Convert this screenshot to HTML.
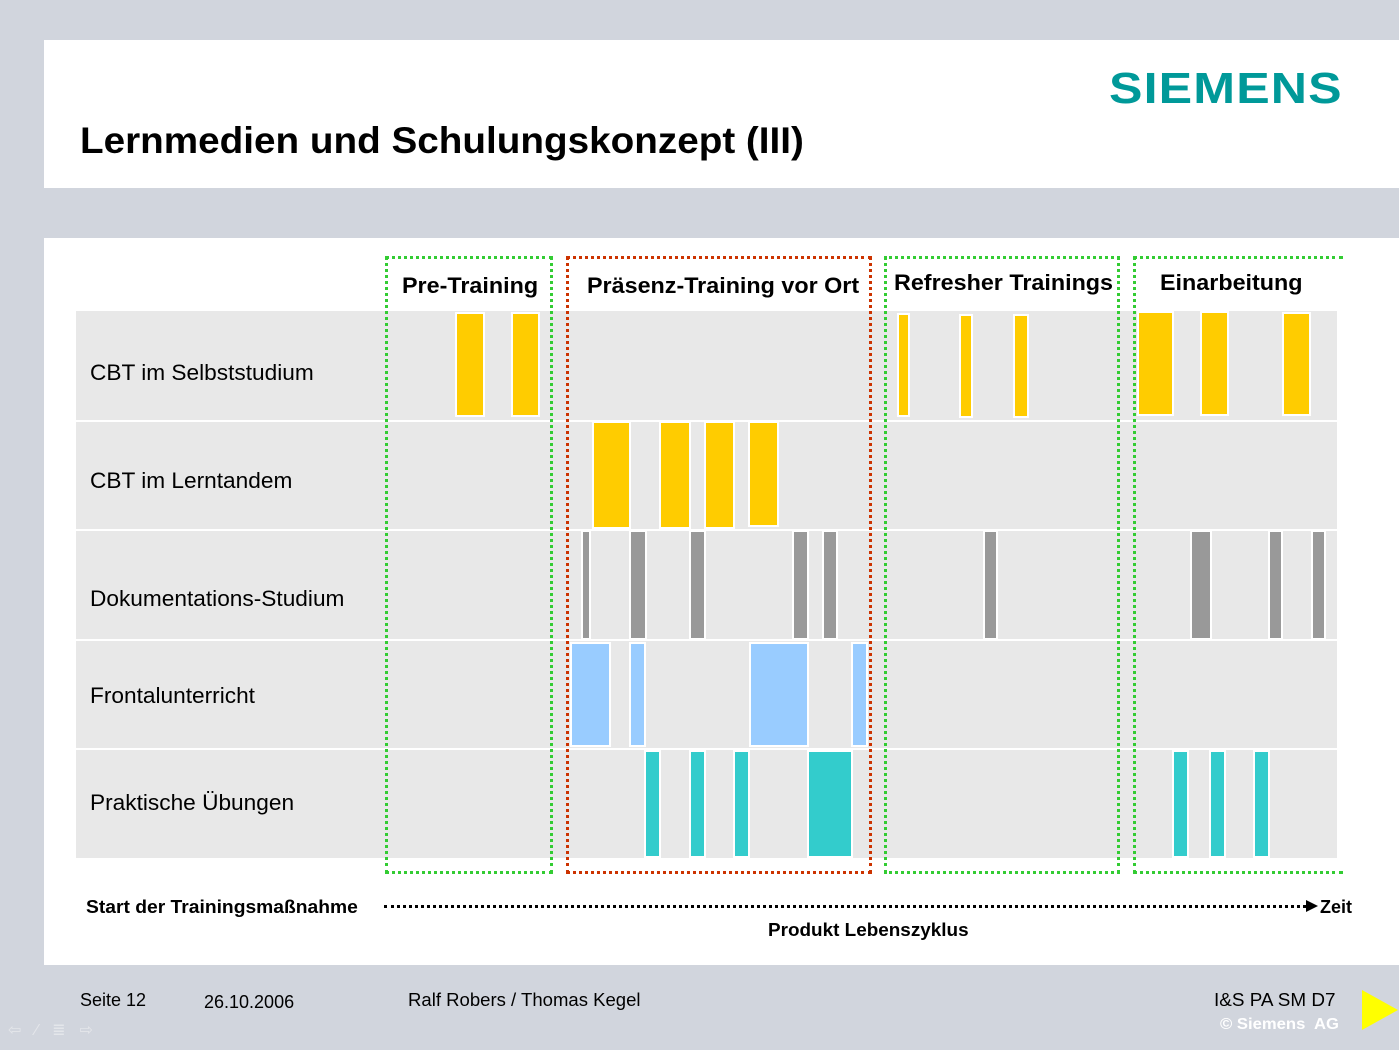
<!DOCTYPE html><html><head><meta charset="utf-8"><style>
body{margin:0;width:1399px;height:1050px;background:#d1d5dd;position:relative;overflow:hidden;font-family:"Liberation Sans",Arial,sans-serif}
div{position:absolute;box-sizing:border-box}
.r{left:76px;width:1261px;background:#e8e8e8}
.l{left:90px;font-size:22px;color:#000;transform:scaleX(1.03);transform-origin:left}
.b{border:2px solid #fff}
.y{background:#ffcc00}.g{background:#999}.bl{background:#99ccff}.t{background:#33cccc}
.h{font-size:22px;font-weight:bold;top:273px;transform:scaleX(1.06);transform-origin:left}
.f{font-size:18px;top:990px}
</style></head><body>
<div style="left:44px;top:40px;width:1355px;height:148px;background:#fff"></div>
<div style="left:1109px;top:64px;font-size:44px;font-weight:bold;color:#009999;letter-spacing:1px;transform:scaleX(1.14);transform-origin:left">SIEMENS</div>
<div style="left:80px;top:120px;font-size:37px;font-weight:bold;transform:scaleX(1.045);transform-origin:left">Lernmedien und Schulungskonzept (III)</div>
<div style="left:44px;top:238px;width:1355px;height:727px;background:#fff"></div>
<div class="r" style="top:311px;height:109px"></div>
<div class="r" style="top:422px;height:107px"></div>
<div class="r" style="top:531px;height:108px"></div>
<div class="r" style="top:641px;height:107px"></div>
<div class="r" style="top:750px;height:108px"></div>
<div class="l" style="top:360px">CBT im Selbststudium</div>
<div class="l" style="top:468px">CBT im Lerntandem</div>
<div class="l" style="top:586px">Dokumentations-Studium</div>
<div class="l" style="top:683px">Frontalunterricht</div>
<div class="l" style="top:790px">Praktische Übungen</div>
<div class="b y" style="left:455px;top:312px;width:30px;height:105px"></div>
<div class="b y" style="left:511px;top:312px;width:29px;height:105px"></div>
<div class="b y" style="left:897px;top:313px;width:13px;height:104px"></div>
<div class="b y" style="left:959px;top:314px;width:14px;height:104px"></div>
<div class="b y" style="left:1013px;top:314px;width:16px;height:104px"></div>
<div class="b y" style="left:1137px;top:311px;width:37px;height:105px"></div>
<div class="b y" style="left:1200px;top:311px;width:29px;height:105px"></div>
<div class="b y" style="left:1282px;top:312px;width:29px;height:104px"></div>
<div class="b y" style="left:592px;top:421px;width:39px;height:108px"></div>
<div class="b y" style="left:659px;top:421px;width:32px;height:108px"></div>
<div class="b y" style="left:704px;top:421px;width:31px;height:108px"></div>
<div class="b y" style="left:748px;top:421px;width:31px;height:106px"></div>
<div class="b g" style="left:581px;top:530px;width:10px;height:110px"></div>
<div class="b g" style="left:629px;top:530px;width:18px;height:110px"></div>
<div class="b g" style="left:689px;top:530px;width:17px;height:110px"></div>
<div class="b g" style="left:792px;top:530px;width:17px;height:110px"></div>
<div class="b g" style="left:822px;top:530px;width:16px;height:110px"></div>
<div class="b g" style="left:983px;top:530px;width:15px;height:110px"></div>
<div class="b g" style="left:1190px;top:530px;width:22px;height:110px"></div>
<div class="b g" style="left:1268px;top:530px;width:15px;height:110px"></div>
<div class="b g" style="left:1311px;top:530px;width:15px;height:110px"></div>
<div class="b bl" style="left:570px;top:642px;width:41px;height:105px"></div>
<div class="b bl" style="left:629px;top:642px;width:17px;height:105px"></div>
<div class="b bl" style="left:749px;top:642px;width:60px;height:105px"></div>
<div class="b bl" style="left:851px;top:642px;width:17px;height:105px"></div>
<div class="b t" style="left:644px;top:750px;width:17px;height:108px"></div>
<div class="b t" style="left:689px;top:750px;width:17px;height:108px"></div>
<div class="b t" style="left:733px;top:750px;width:17px;height:108px"></div>
<div class="b t" style="left:807px;top:750px;width:46px;height:108px"></div>
<div class="b t" style="left:1172px;top:750px;width:17px;height:108px"></div>
<div class="b t" style="left:1209px;top:750px;width:17px;height:108px"></div>
<div class="b t" style="left:1253px;top:750px;width:17px;height:108px"></div>
<div style="left:385px;top:256px;width:168px;height:618px;border:3px dotted #33cc33"></div>
<div style="left:566px;top:256px;width:306px;height:618px;border:3px dotted #cc3300"></div>
<div style="left:884px;top:256px;width:236px;height:618px;border:3px dotted #33cc33"></div>
<div style="left:1133px;top:256px;width:210px;height:618px;border:3px dotted #33cc33;border-right:none"></div>
<div class="h" style="left:402px">Pre-Training</div>
<div class="h" style="left:587px">Präsenz-Training vor Ort</div>
<div class="h" style="left:894px;top:270px">Refresher Trainings</div>
<div class="h" style="left:1160px;top:270px">Einarbeitung</div>
<div style="left:86px;top:897px;font-size:18px;font-weight:bold;transform:scaleX(1.07);transform-origin:left">Start der Trainingsmaßnahme</div>
<div style="left:384px;top:905px;width:922px;border-top:3px dotted #000"></div>
<div style="left:1306px;top:900px;width:0;height:0;border-left:12px solid #000;border-top:6px solid transparent;border-bottom:6px solid transparent"></div>
<div style="left:1320px;top:897px;font-size:18px;font-weight:bold">Zeit</div>
<div style="left:768px;top:920px;font-size:18px;font-weight:bold;transform:scaleX(1.05);transform-origin:left">Produkt Lebenszyklus</div>
<div class="f" style="left:80px">Seite 12</div>
<div class="f" style="left:204px;top:992px">26.10.2006</div>
<div class="f" style="left:408px;transform:scaleX(1.03);transform-origin:left">Ralf Robers / Thomas Kegel</div>
<div class="f" style="left:1214px;transform:scaleX(1.05);transform-origin:left">I&amp;S PA SM D7</div>
<div style="left:1220px;top:1016px;font-size:16px;font-weight:bold;color:#fff;transform:scaleX(1.04);transform-origin:left">© Siemens&nbsp; AG</div>
<div style="left:1362px;top:990px;width:0;height:0;border-left:36px solid #ffff00;border-top:20px solid transparent;border-bottom:20px solid transparent"></div>
<div style="left:8px;top:1020px;font-size:16px;color:#e4e6ea;letter-spacing:14px">⇦⁄≣⇨</div>
</body></html>
